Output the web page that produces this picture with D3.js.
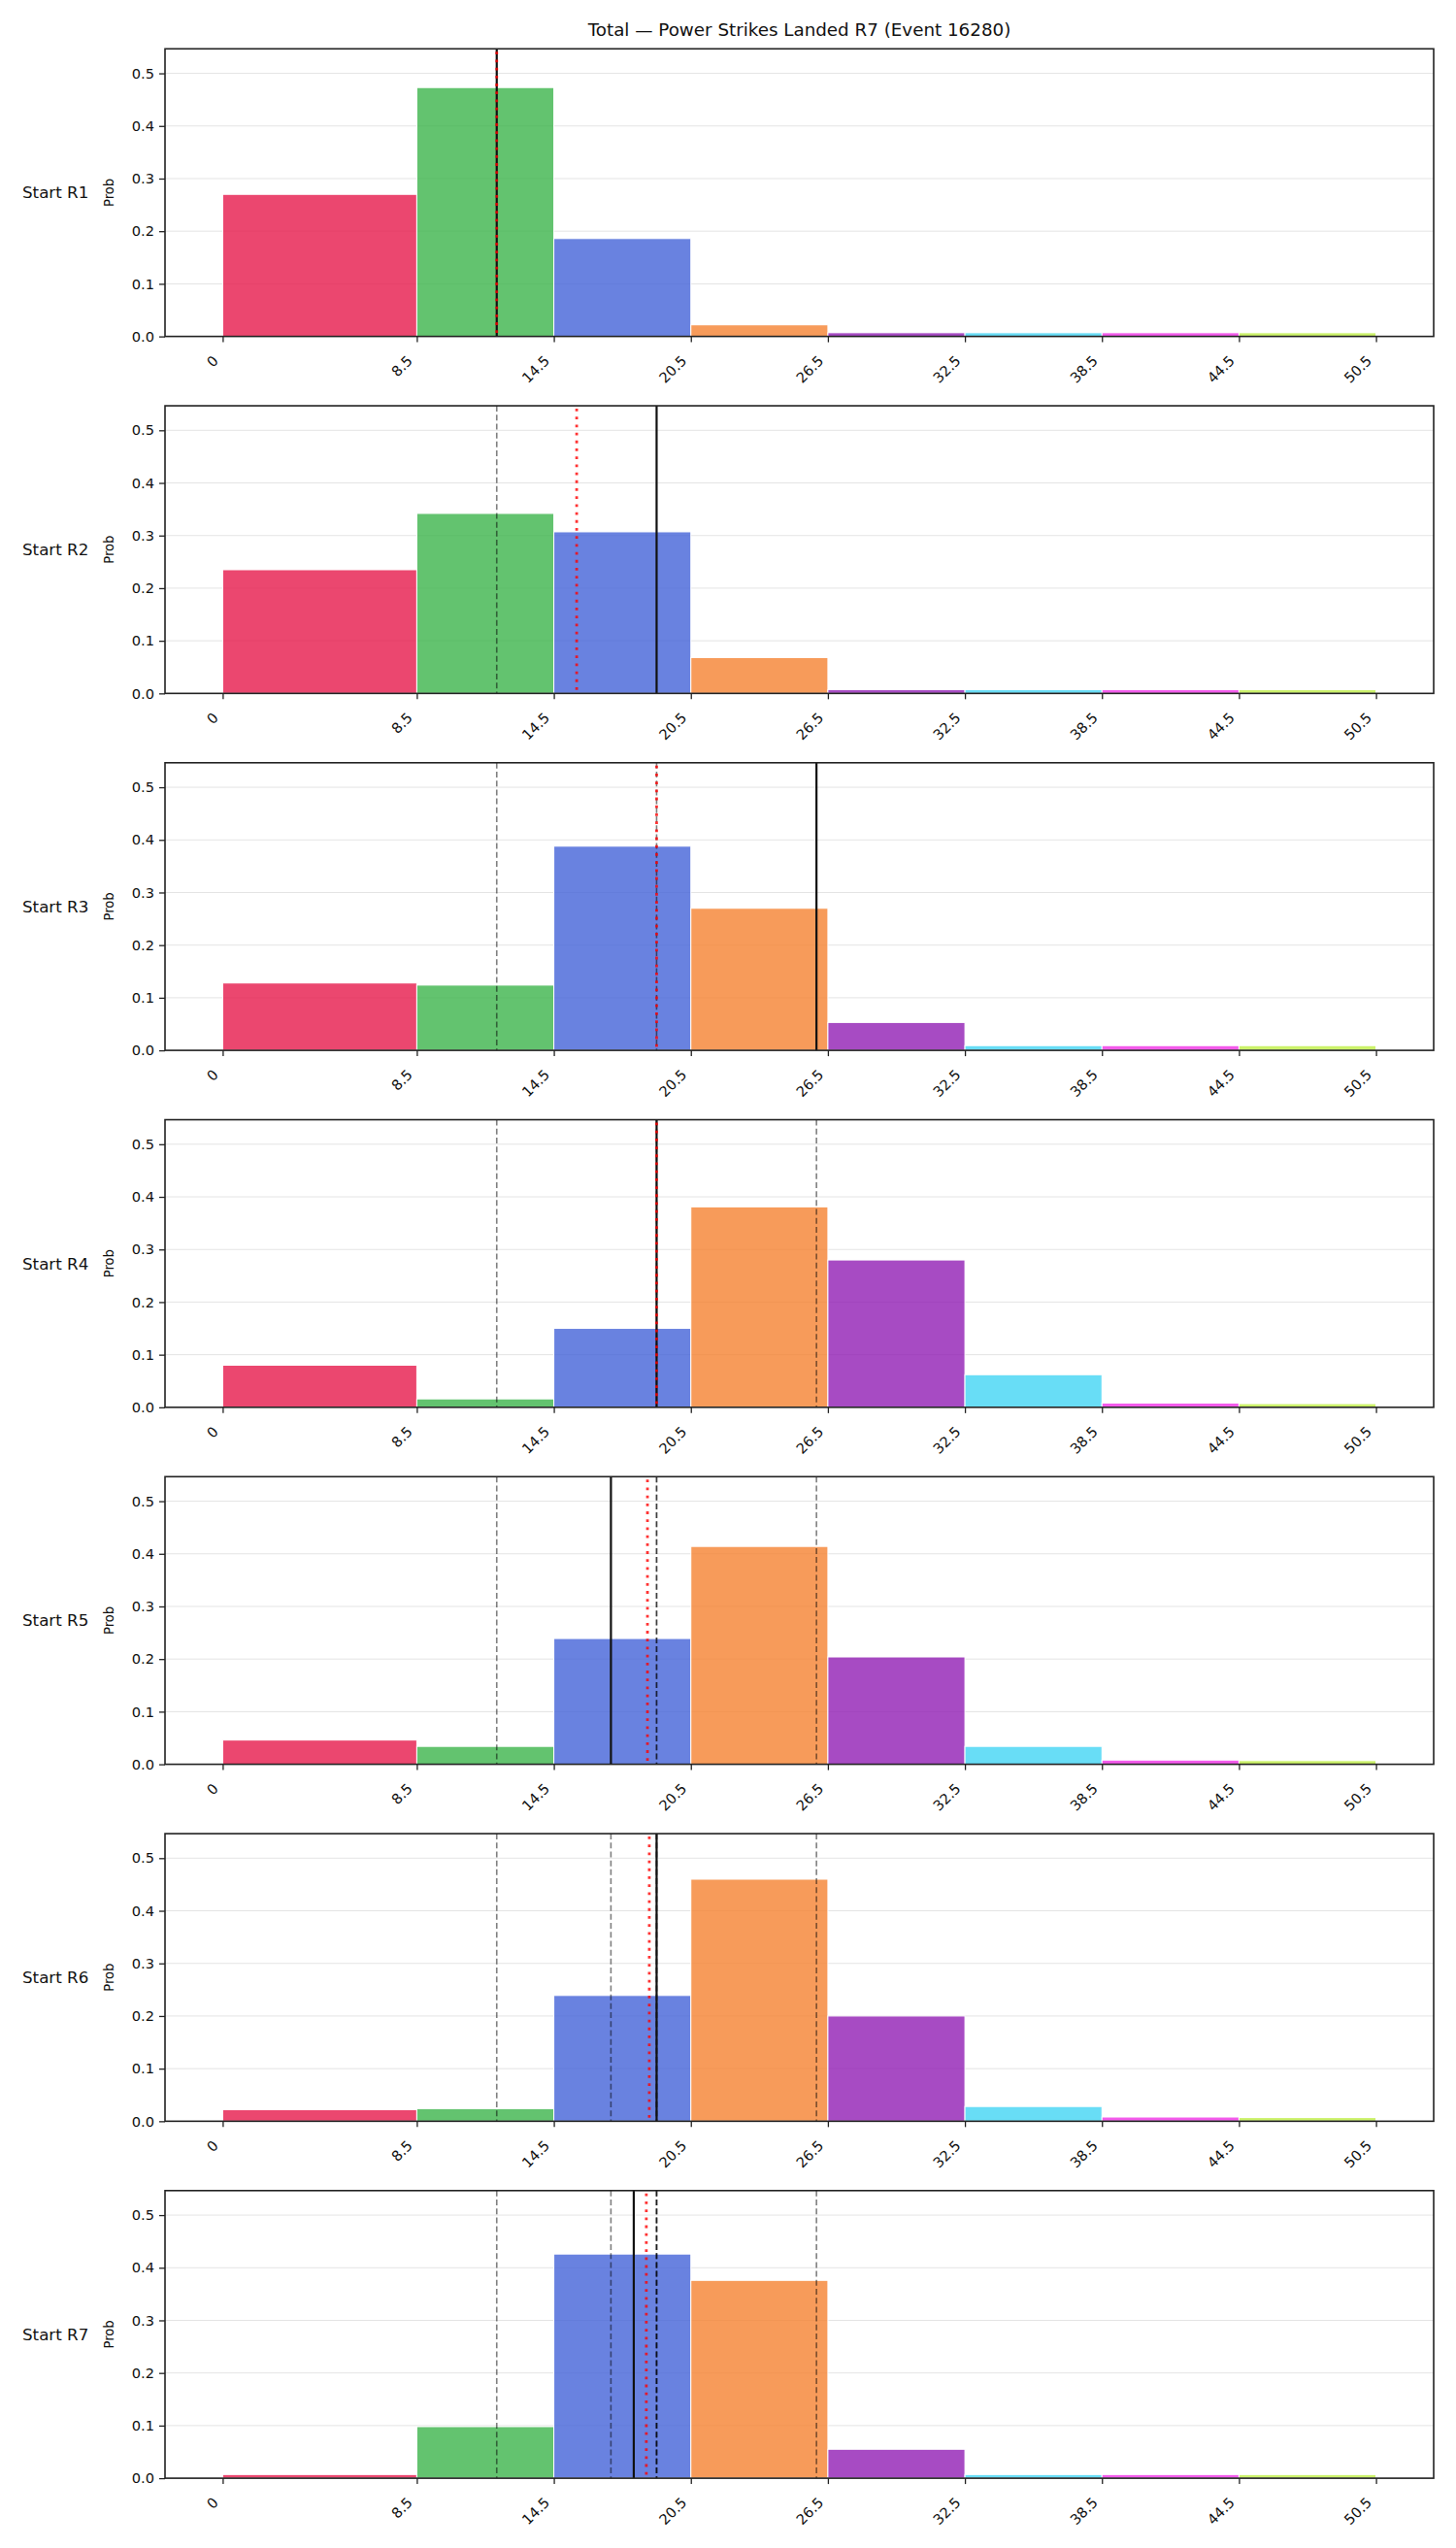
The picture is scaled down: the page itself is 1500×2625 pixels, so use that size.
<!DOCTYPE html>
<html>
<head>
<meta charset="utf-8">
<script src="https://cdn.jsdelivr.net/npm/d3@7"></script>
<style>
  body { margin: 0; background: #fff; }
  text { font-family: "DejaVu Sans", sans-serif; fill: #111; }
</style>
</head>
<body>
<div class="chart"></div>
<script>
// bins of the histogram (same for every row)
const binEdges = [0, 8.5, 14.5, 20.5, 26.5, 32.5, 38.5, 44.5, 50.5]
const tickLabels = ['0', '8.5', '14.5', '20.5', '26.5', '32.5', '38.5', '44.5', '50.5']
const binColors = ['#e6194B', '#3cb44b', '#4363d8', '#f58231', '#911eb4', '#42d4f4', '#f032e6', '#bfef45']

const rowLabels = ['Start R1', 'Start R2', 'Start R3', 'Start R4', 'Start R5', 'Start R6', 'Start R7']

// probability per bin, one array per starting round
const probR1 = [0.270, 0.473, 0.186, 0.022, 0.007, 0.007, 0.007, 0.007]
const probR2 = [0.235, 0.342, 0.307, 0.068, 0.007, 0.007, 0.007, 0.007]
const probR3 = [0.128, 0.124, 0.388, 0.270, 0.053, 0.009, 0.009, 0.009]
const probR4 = [0.080, 0.016, 0.150, 0.381, 0.280, 0.062, 0.008, 0.007]
const probR5 = [0.046, 0.034, 0.239, 0.414, 0.204, 0.034, 0.008, 0.007]
const probR6 = [0.022, 0.024, 0.239, 0.460, 0.200, 0.028, 0.008, 0.007]
const probR7 = [0.007, 0.098, 0.426, 0.376, 0.055, 0.007, 0.007, 0.007]

// solid line = value at this round, dashed = values of earlier rounds
const actualValue = [12, 19, 26, 19, 17, 19, 18]
// red dotted line
const meanValue = [12.0, 15.5, 19.0, 19.0, 18.6, 18.68, 18.55]

const yTicks = [0, 0.1, 0.2, 0.3, 0.4, 0.5]
const title = 'Total \u2014 Power Strikes Landed R7 (Event 16280)'

const allProbs = [probR1, probR2, probR3, probR4, probR5, probR6, probR7]

const W = 1500, H = 2625
const left = 170, right = 1477
const firstTop = 50.3, rowStep = 367.75, panelH = 296.3

const svg = d3.select('.chart')
  .append('svg')
    .attr('width', W)
    .attr('height', H)

svg.append('text')
  .attr('x', (left + right) / 2)
  .attr('y', 37)
  .attr('text-anchor', 'middle')
  .style('font-size', '18.3px')
  .text(title)

const xScale = d3.scaleLinear()
  .domain([-2.525, 53.025])
  .range([0, right - left])

const yScale = d3.scaleLinear()
  .domain([0, 0.5466])
  .range([panelH, 0])

allProbs.forEach((probs, r) => {
  const g = svg.append('g')
    .attr('transform', `translate(${left}, ${firstTop + r * rowStep})`)

  // horizontal grid
  g.selectAll('.grid')
    .data(yTicks.slice(1))
    .enter()
    .append('line')
      .attr('x1', 0)
      .attr('x2', right - left)
      .attr('y1', d => yScale(d))
      .attr('y2', d => yScale(d))
      .style('stroke', '#e4e4e4')
      .style('stroke-width', 1)

  const bins = probs.map((p, i) => ({x0: binEdges[i], x1: binEdges[i + 1], p: p, c: binColors[i]}))

  g.selectAll('.bar')
    .data(bins)
    .enter()
    .append('rect')
      .attr('x', d => xScale(d.x0))
      .attr('width', d => xScale(d.x1) - xScale(d.x0))
      .attr('y', d => yScale(d.p))
      .attr('height', d => yScale(0) - yScale(d.p))
      .style('fill', d => d.c)
      .style('fill-opacity', 0.8)
      .style('stroke', '#fff')
      .style('stroke-width', 1)

  // earlier rounds
  g.selectAll('.prev')
    .data(actualValue.slice(0, r))
    .enter()
    .append('line')
      .attr('x1', d => xScale(d))
      .attr('x2', d => xScale(d))
      .attr('y1', 0)
      .attr('y2', panelH)
      .style('stroke', '#000')
      .style('stroke-opacity', 0.5)
      .style('stroke-width', 1.6)
      .style('stroke-dasharray', '6,3.2')

  g.append('line')
    .attr('x1', xScale(actualValue[r]))
    .attr('x2', xScale(actualValue[r]))
    .attr('y1', 0)
    .attr('y2', panelH)
    .style('stroke', '#111')
    .style('stroke-width', 2.2)

  g.append('line')
    .attr('x1', xScale(meanValue[r]))
    .attr('x2', xScale(meanValue[r]))
    .attr('y1', 0)
    .attr('y2', panelH)
    .style('stroke', '#ff0000')
    .style('stroke-opacity', 0.8)
    .style('stroke-width', 2.8)
    .style('stroke-dasharray', '2.8,5.4')
    .style('stroke-dashoffset', -3)

  // axes
  const yAxis = g.append('g')
    .call(d3.axisLeft(yScale).tickValues(yTicks).tickFormat(d3.format('.1f')).tickSize(6).tickPadding(5))
  yAxis.select('.domain').remove()
  yAxis.selectAll('text').style('font-size', '14.6px').attr('fill', '#111')

  const xAxis = g.append('g')
    .attr('transform', `translate(0, ${panelH})`)
    .call(d3.axisBottom(xScale).tickValues(binEdges).tickFormat((d, i) => tickLabels[i]).tickSize(6))
  xAxis.select('.domain').remove()
  xAxis.selectAll('text')
    .style('font-size', '14.6px')
    .attr('fill', '#111')
    .attr('text-anchor', 'end')
    .attr('y', 0)
    .attr('dy', 0)
    .attr('transform', 'translate(-4, 26) rotate(-45)')
  g.selectAll('.tick line').style('stroke', '#222').style('stroke-width', 1.3)

  // frame
  g.append('rect')
    .attr('width', right - left)
    .attr('height', panelH)
    .style('fill', 'none')
    .style('stroke', '#222')
    .style('stroke-width', 1.6)

  g.append('text')
    .attr('transform', `translate(-53, ${panelH / 2}) rotate(-90)`)
    .attr('text-anchor', 'middle')
    .style('font-size', '13.2px')
    .text('Prob')

  g.append('text')
    .attr('x', 23 - left)
    .attr('y', panelH / 2)
    .attr('dy', '0.35em')
    .style('font-size', '16.7px')
    .text(rowLabels[r])
})
</script>
</body>
</html>
